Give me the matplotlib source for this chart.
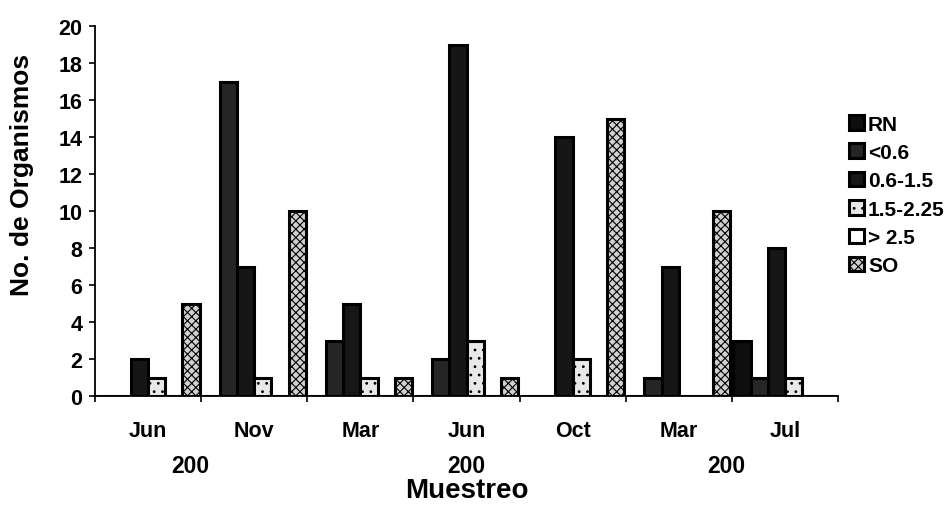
import matplotlib
matplotlib.use("Agg")
import matplotlib.pyplot as plt
import numpy as np

plt.rcParams['font.family'] = ['Liberation Sans', 'DejaVu Sans']
plt.rcParams['hatch.linewidth'] = 0.8

# Sampling dates and the three year labels under them
months = ["Jun", "Nov", "Mar", "Jun", "Oct", "Mar", "Jul"]
year_labels = ["200", "200", "200"]
year_pos = [0.9, 3.5, 5.95]

# Number of organisms per size class
series_names = ["RN", "<0.6", "0.6-1.5", "1.5-2.25", "> 2.5", "SO"]
rn = [0, 0, 0, 0, 0, 0, 3]
lt_06 = [0, 17, 3, 2, 0, 1, 1]
c06_15 = [2, 7, 5, 19, 14, 7, 8]
c15_225 = [1, 1, 1, 3, 2, 0, 1]
gt_25 = [0, 0, 0, 0, 0, 0, 0]
so = [5, 10, 1, 1, 15, 10, 0]
series = [rn, lt_06, c06_15, c15_225, gt_25, so]

styles = [
    dict(facecolor="#0e0e0e", hatch=None),
    dict(facecolor="#262626", hatch=None),
    dict(facecolor="#161616", hatch=None),
    dict(facecolor="#e8e8e8", hatch=".."),
    dict(facecolor="#ffffff", hatch=None),
    dict(facecolor="#d0d0d0", hatch="xxxx"),
]

fig = plt.figure(figsize=(9.51, 5.06), dpi=100)
ax = fig.add_axes([0.0999, 0.2154, 0.7813, 0.7312])

n = len(series)
bw = 0.162
start = (1 - n * bw) / 2
x = np.arange(len(months))
for i, (name, vals, st) in enumerate(zip(series_names, series, styles)):
    ax.bar(x + start + i * bw, vals, width=bw, align="edge",
           facecolor=st["facecolor"], edgecolor="black", linewidth=2.2,
           hatch=st["hatch"], label=name)

ax.set_xlim(0, len(months))
ax.set_ylim(0, 20)
ax.set_yticks(np.arange(0, 21, 2))
ax.set_xticks(np.arange(0, len(months) + 1))
ax.set_xticklabels([])
ax.set_xticks(x + 0.5, minor=True)
ax.set_xticklabels(months, minor=True, fontsize=15.5, fontweight="bold")
ax.tick_params(axis="x", which="major", direction="out", length=4, width=1.2)
ax.tick_params(axis="x", which="minor", length=0, pad=17)
ax.tick_params(axis="y", direction="out", length=4, width=1.2, pad=5,
               labelsize=15.5)
for lab in ax.get_yticklabels():
    lab.set_fontweight("bold")

for s in ["top", "right"]:
    ax.spines[s].set_visible(False)
for s in ["left", "bottom"]:
    ax.spines[s].set_linewidth(1.3)

for yl, xp in zip(year_labels, year_pos):
    ax.text(xp, -0.1865, yl, transform=ax.get_xaxis_transform(),
            ha="center", va="center", fontsize=16.5, fontweight="bold")

ax.set_xlabel("Muestreo", fontsize=20, fontweight="bold", va="center")
ax.xaxis.set_label_coords(0.5, -0.254)
ax.set_ylabel("No. de Organismos", fontsize=19, fontweight="bold", va="center")
ax.yaxis.set_label_coords(-0.098, 0.60)

fig.legend(loc="center left", bbox_to_anchor=(0.893, 0.6126),
           frameon=False, borderpad=0, borderaxespad=0,
           prop=dict(size=15, weight="bold"),
           handlelength=0.7, handleheight=0.7, handletextpad=0.2,
           labelspacing=0.45)

fig.savefig("out.png", dpi=100)
